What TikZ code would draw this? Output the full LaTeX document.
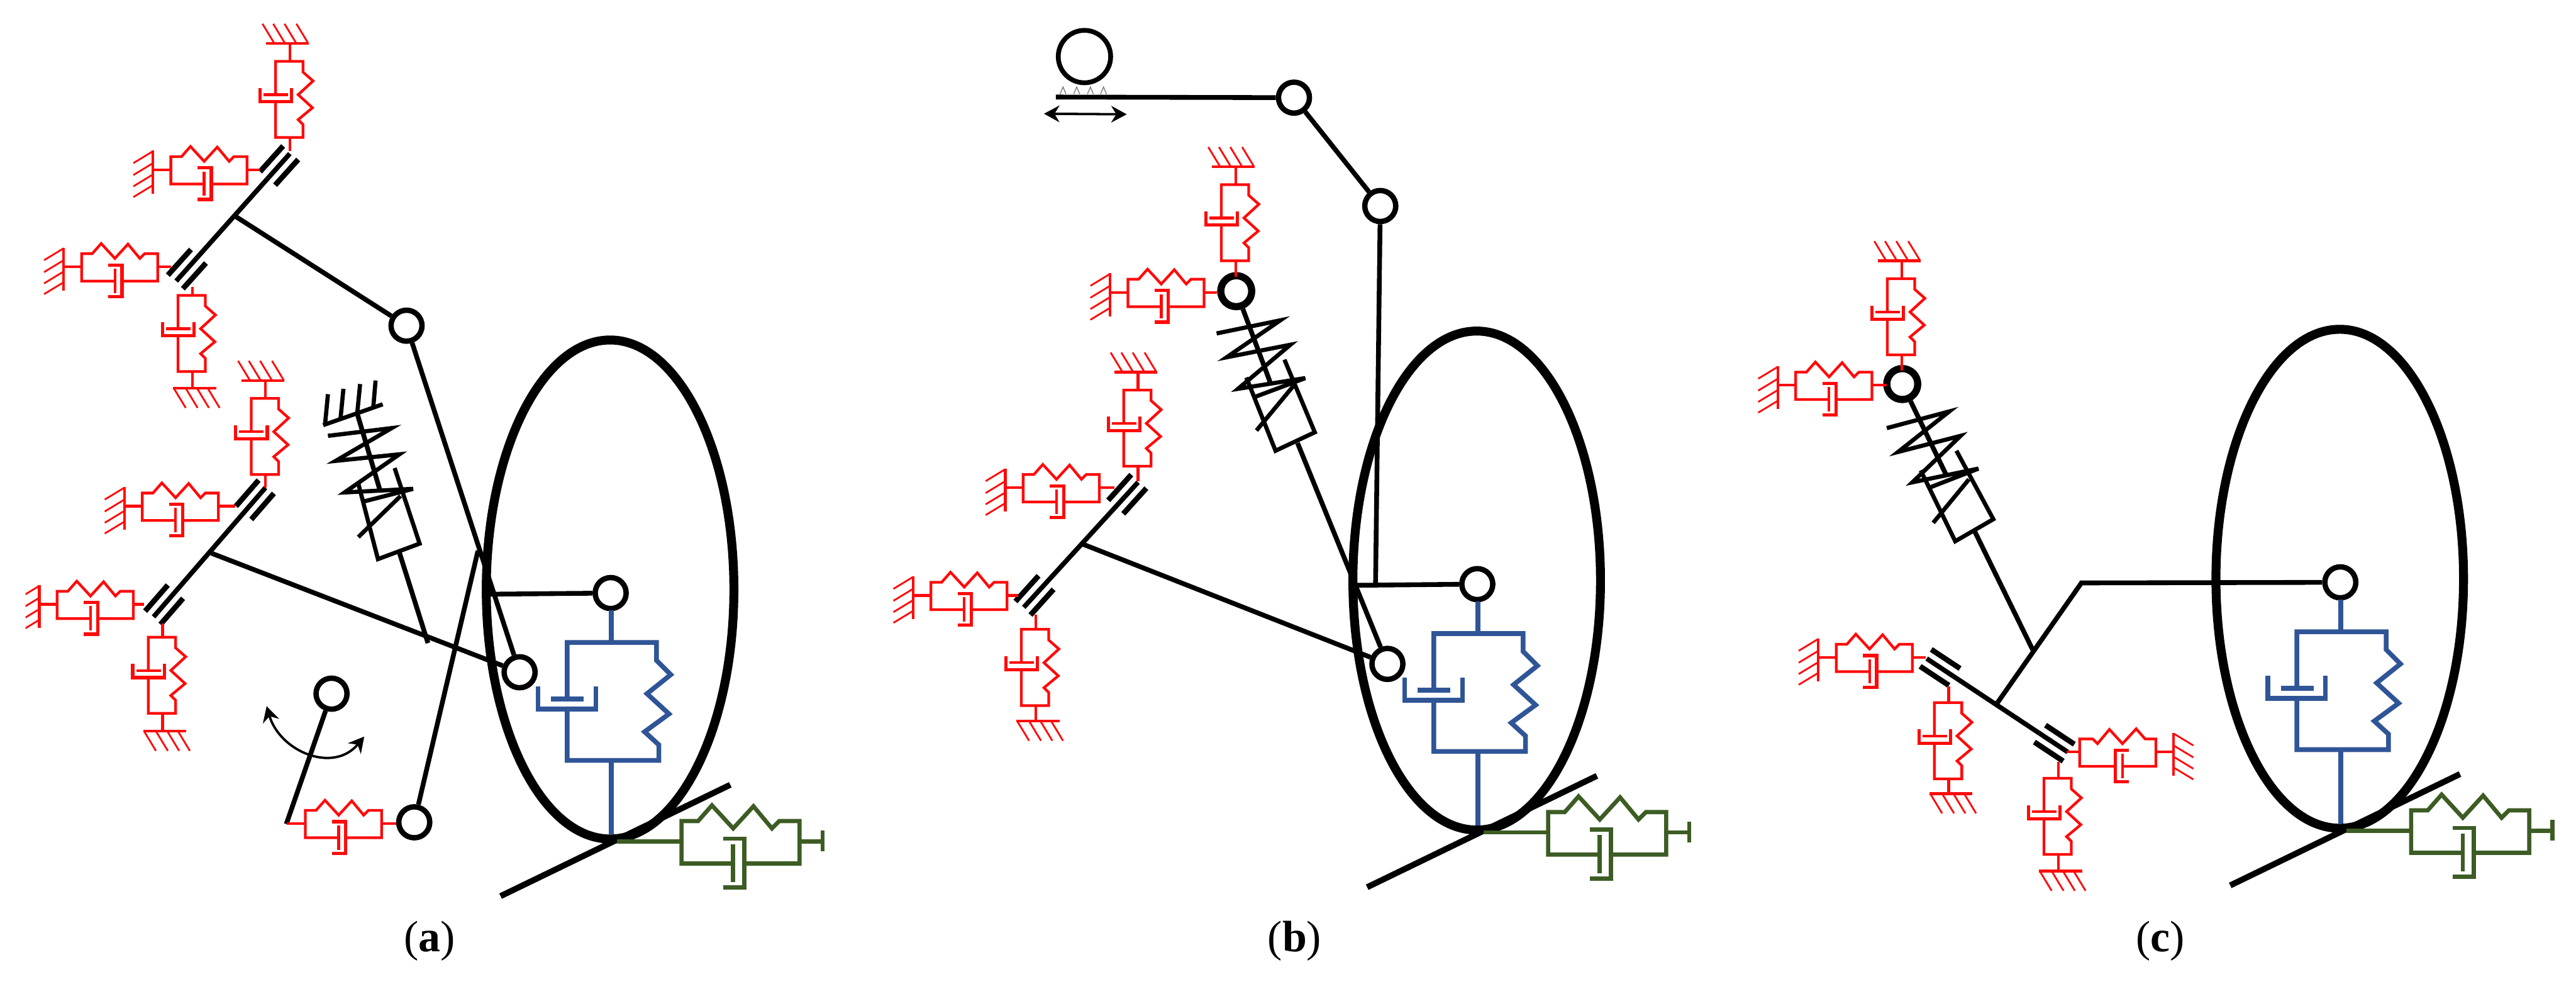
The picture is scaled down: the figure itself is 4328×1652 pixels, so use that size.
\documentclass[tikz,border=0pt]{standalone}
\usepackage{fontspec}
\setmainfont{Liberation Serif}
\usetikzlibrary{positioning,arrows.meta}
\definecolor{kvred}{RGB}{255,10,10}
\definecolor{kvblue}{RGB}{47,85,151}
\definecolor{kvgreen}{RGB}{60,92,36}

% box of one spring and damper, with its two stems
\newcommand{\kvbox}[2]{%
  \draw[kvline] (-#1,0) -- (0,0);
  \draw[kvline] (128,0) -- ++(#2,0);
  \draw[kvline] (56,24) -- (0,24) -- (0,-22) -- (18,-22) -- (33,-39) -- (56,-14) -- (78,-38) -- (98,-14) -- (106,-22) -- (128,-22) -- (128,24) -- (68,24);
  \draw[kvline] (56,3) -- (56,44);
  \draw[cupline] (45,-3) -- (68,-3) -- (68,50) -- (45,50);
}
% fixed wall with its hatching
\newcommand{\wallbar}{%
  \draw[kvline] (0,-32) -- (0,40);
  \foreach \h in {-31,-11,8,26} \draw[hatchline] (0,\h) -- ++(-33,20);
}

\begin{document}
\begin{tikzpicture}[
  x=0.01cm, y=-0.01cm,
  joint/.style={circle, draw, line width=0.09cm, minimum size=0.52cm, inner sep=0pt},
  boldjoint/.style={joint, line width=0.12cm},
  ball/.style={joint, line width=0.08cm, minimum size=0.88cm},
  rod/.style={line width=0.08cm},
  strut/.style={line width=0.07cm},
  sleeveline/.style={line width=0.09cm},
  tyre/.style={line width=0.15cm},
  road/.style={line width=0.1cm},
  kvline/.style={line width=0.045cm},
  cupline/.style={line width=0.055cm},
  hatchline/.style={line width=0.03cm},
  huband/.style={line width=0.08cm, kvblue},
  swing/.style={line width=0.04cm, {Stealth[length=0.26cm,width=0.28cm]}-{Stealth[length=0.26cm,width=0.28cm]}},
  label/.style={font=\fontsize{21}{25}\selectfont},
  pics/wall/.style={code={\wallbar}},
  pics/kv/.style 2 args={code={\kvbox{#1}{#2}}},
  pics/gkv/.style={code={
    \wallbar
    \begin{scope}[shift={(30,0)}]
      \kvbox{30}{#1}
    \end{scope}
  }},
  pics/sleeve/.style={code={
    \draw[sleeveline] (-2,-17) -- (56,-17);
    \draw[sleeveline] (-2,17) -- (56,17);
  }},
  pics/wheel/.style={code={
    \draw[tyre] (-1,-6) ellipse [x radius=208, y radius=419];
    \draw[road] (-185,509) -- (201,322);
    \begin{scope}[shift={(1,83)}]
      \draw[huband] (0,-54) -- (0,0);
      \draw[huband] (0,198) -- (0,322);
      \draw[huband] (-74,95) -- (-74,0) -- (76,0) -- (76,30) -- (100,54) -- (60,86) -- (97,120) -- (56,150) -- (80,172) -- (80,198) -- (-74,198) -- (-74,112);
      \draw[huband] (-123,74) -- (-123,112) -- (-26,112) -- (-26,74);
      \draw[huband] (-101,95) -- (-46,95);
    \end{scope}
    \pic[color=kvgreen, scale=1.55, kvline/.style={line width=0.07cm}, cupline/.style={line width=0.07cm}] at (119,417) {kv={70}{25}};
    \draw[kvgreen, line width=0.07cm] (356,399) -- (356,434);
  }}
]
  \useasboundingbox (0,0) rectangle (4328,1652);

  % (a) wheel and lower links
  \node[joint] (a3) at (1026,996) {};
  \pic at (a3) {wheel};
  \node[joint] (a1) at (683,547) {};
  \node[joint] (a2) at (873,1129) {};
  \node[joint] (a4) at (696,1381) {};
  \node[joint] (a5) at (557,1165) {};
  \coordinate (a-top1) at (487,258);
  \coordinate (a-low1) at (296,472);
  \coordinate (a-mid1) at (395,363);
  \coordinate (a-top2) at (446,819);
  \coordinate (a-low2) at (258,1036);
  \coordinate (a-mid2) at (355,929);
  \coordinate (a-kink) at (803,925);
  \coordinate (a-arm) at (815,998);
  \coordinate (a-foot) at (481,1384);
  \draw[rod] (a-top1) -- (a-low1);
  \draw[rod] (a-top2) -- (a-low2);
  \draw[rod] (a-mid1) -- (a1);
  \draw[rod] (a1) -- (a2);
  \draw[rod] (a-mid2) -- (a2);
  \draw[rod] (a4) -- (a-kink);
  \draw[rod] (a-arm) -- (a3);
  \draw[rod] (a5) -- (a-foot);
  \pic[rotate=228] at (a-top1) {sleeve};
  \pic[rotate=48] at (a-low1) {sleeve};
  \pic[rotate=229] at (a-top2) {sleeve};
  \pic[rotate=49] at (a-low2) {sleeve};
  \draw[swing] (448,1186) .. controls (470,1262) and (560,1300) .. (612,1237);

  % (a) strut
  \draw[strut] (543,714) -- (643,679);
  \draw[strut] (546,714) -- (551,662);
  \draw[strut] (572,704) -- (577,653);
  \draw[strut] (600,696) -- (605,645);
  \draw[strut] (627,686) -- (631,639);
  \draw[rod] (600,694) -- (638,822);
  \draw[strut] (551,732) -- (658,719) -- (564,774) -- (671,763) -- (579,827) -- (694,821) -- (612,842);
  \draw[strut] (602,812) -- (635,939) -- (705,913) -- (663,786);
  \draw[strut] (602,902) -- (673,833);
  \draw[rod] (671,928) -- (719,1080);

  % (a) red units
  \pic[color=kvred, rotate=-90] at (487,73) {gkv=23};
  \pic[color=kvred] at (257,285) {gkv=21};
  \pic[color=kvred] at (107,448) {gkv=22};
  \pic[color=kvred, rotate=-90] at (323,496) {kv={14}{28}};
  \pic[color=kvred, rotate=90] at (323,652) {wall};
  \pic[color=kvred, rotate=-90] at (446,639) {gkv=22};
  \pic[color=kvred] at (209,850) {gkv=28};
  \begin{scope}
    \clip (43,950) rectangle (260,1100);
    \pic[color=kvred] at (66,1015) {gkv=18};
  \end{scope}
  \pic[color=kvred, rotate=-90] at (273,1070) {kv={23}{30}};
  \pic[color=kvred, rotate=90] at (273,1228) {wall};
  \pic[color=kvred] at (513,1383) {kv={31}{25}};

  % (b) wheel, rack and links
  \node[joint] (b3) at (2482,981) {};
  \pic at (b3) {wheel};
  \node[ball] (b0) at (1822,95) {};
  \node[joint] (b1) at (2174,164) {};
  \node[joint] (b2) at (2319,346) {};
  \node[boldjoint] (b4) at (2077,489) {};
  \node[joint] (b5) at (2331,1115) {};
  \coordinate (b-rack) at (1774,163);
  \coordinate (b-frame) at (2311,986);
  \coordinate (b-arm) at (2277,983);
  \coordinate (b-top) at (1912,810);
  \coordinate (b-low) at (1720,1020);
  \coordinate (b-mid) at (1817,913);
  \coordinate (b-rodup) at (2134,642);
  \coordinate (b-roddown) at (2180,744);
  \draw[rod] (b-rack) -- (b1);
  \draw[rod] (b1) -- (b2);
  \draw[rod] (b2) -- (b-frame);
  \draw[rod] (b-arm) -- (b3);
  \draw[rod] (b-top) -- (b-low);
  \draw[rod] (b-mid) -- (b5);
  \pic[rotate=228] at (b-top) {sleeve};
  \pic[rotate=48] at (b-low) {sleeve};
  \foreach \x in {1786,1809,1832,1854} \draw[gray, line width=0.015cm] ({\x-5},158) -- (\x,146) -- ({\x+5},158);
  \draw[swing] (1754,191) -- (1893,192);

  % (b) strut
  \draw[rod] (b4) -- (b-rodup);
  \draw[strut] (2044,560) -- (2151,538) -- (2061,600) -- (2168,579) -- (2080,653) -- (2193,635) -- (2110,666);
  \draw[strut] (2094,634) -- (2143,757) -- (2209,726) -- (2158,604);
  \draw[strut] (2111,723) -- (2174,647);
  \draw[rod] (b-roddown) -- (b5);

  % (b) red units
  \pic[color=kvred, rotate=-90] at (2076,280) {gkv=27};
  \pic[color=kvred] at (1865,491) {gkv=22};
  \pic[color=kvred, rotate=-90] at (1912,625) {gkv=25};
  \pic[color=kvred] at (1689,819) {gkv=25};
  \pic[color=kvred] at (1534,1000) {gkv=19};
  \pic[color=kvred, rotate=-90] at (1740,1057) {kv={25}{27}};
  \pic[color=kvred, rotate=90] at (1740,1211) {wall};

  % (c) wheel and links
  \node[joint] (c3) at (3932,978) {};
  \pic at (c3) {wheel};
  \node[boldjoint] (c1) at (3196,645) {};
  \coordinate (c-knee) at (3497,979);
  \coordinate (c-fork) at (3354,1183);
  \coordinate (c-top) at (3237,1106);
  \coordinate (c-low) at (3474,1263);
  \coordinate (c-rodup) at (3270,798);
  \coordinate (c-roddown) at (3318,893);
  \coordinate (c-rodend) at (3415,1091);
  \draw[rod] (c-top) -- (c-low);
  \draw[rod] (c-fork) -- (c-knee) -- (c3);
  \pic[rotate=-33.5] at (c-top) {sleeve};
  \pic[rotate=146.5] at (c-low) {sleeve};

  % (c) strut
  \draw[rod] (c1) -- (c-rodup);
  \draw[strut] (3170,719) -- (3275,691) -- (3189,759) -- (3294,732) -- (3213,810) -- (3324,787) -- (3239,820);
  \draw[strut] (3227,790) -- (3285,909) -- (3349,872) -- (3287,757);
  \draw[strut] (3248,878) -- (3308,805);
  \draw[rod] (c-roddown) -- (c-rodend);

  % (c) red units
  \pic[color=kvred, rotate=-90] at (3195,438) {gkv=26};
  \pic[color=kvred] at (2987,647) {gkv=25};
  \pic[color=kvred] at (3055,1104) {gkv=22};
  \pic[color=kvred, rotate=-90] at (3274,1180) {kv={27}{26}};
  \pic[color=kvred, rotate=90] at (3274,1333) {wall};
  \pic[color=kvred, xscale=-1] at (3652,1263) {gkv=22};
  \pic[color=kvred, rotate=-90] at (3458,1307) {kv={27}{27}};
  \pic[color=kvred, rotate=90] at (3458,1463) {wall};

  \node[label] (lab-a) at (722,1580) {(\textbf{a})};
  \node[label] (lab-b) at (2175,1580) {(\textbf{b})};
  \node[label] (lab-c) at (3630,1580) {(\textbf{c})};
\end{tikzpicture}
\end{document}
